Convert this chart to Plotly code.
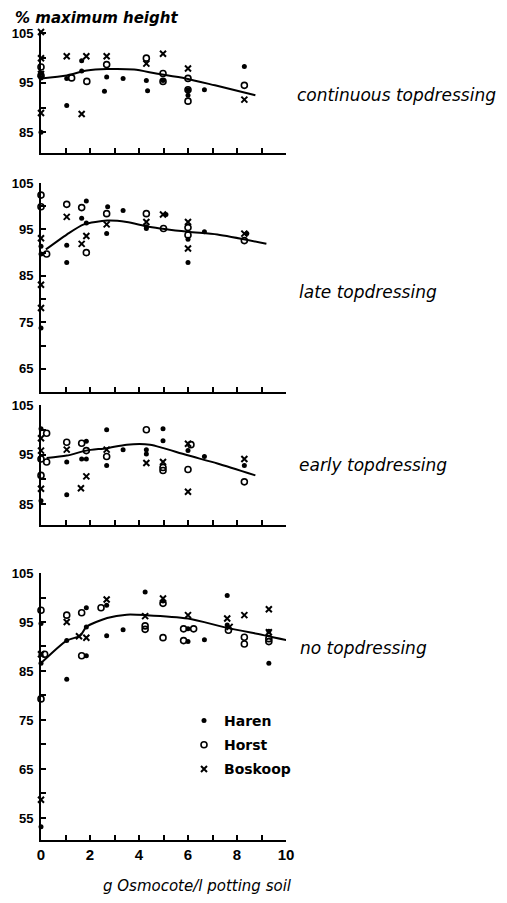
import plotly.graph_objects as go

# ---------------- data ----------------
panel_labels = ["continuous topdressing", "late topdressing", "early topdressing", "no topdressing"]
series_names = ["Haren", "Horst", "Boskoop"]

# continuous topdressing
cont_haren_x = [0, 0, 0, 1.05, 1.05, 1.66, 1.66, 2.68, 2.59, 3.35, 4.3, 4.35, 4.98, 6.0, 6.0, 6.67, 8.3]
cont_haren_y = [97.0, 96.0, 85.0, 95.9, 90.4, 99.5, 97.4, 96.2, 93.3, 95.9, 95.5, 93.4, 95.5, 93.6, 92.5, 93.6, 98.3]
cont_horst_x = [0, 0, 1.25, 1.87, 2.68, 4.3, 4.98, 4.98, 6.0, 6.0, 6.0, 8.3]
cont_horst_y = [98.2, 96.5, 96.0, 95.3, 98.7, 100.0, 96.9, 95.3, 95.9, 93.6, 91.3, 94.5]
cont_bosk_x = [0, 0, 0, 0, 1.05, 1.66, 1.85, 2.68, 4.3, 4.98, 6.0, 8.3]
cont_bosk_y = [105.3, 100.0, 96.8, 88.9, 100.4, 88.7, 100.4, 100.4, 98.9, 100.9, 97.9, 91.6]
cont_fit_x = [0, 1.05, 1.87, 2.7, 3.8, 4.7, 5.9, 7.1, 8.75]
cont_fit_y = [95.9, 96.5, 97.5, 97.8, 97.7, 96.9, 95.9, 94.5, 92.5]

# late topdressing
late_haren_x = [0, 0, 0, 1.05, 1.05, 1.85, 1.66, 1.85, 2.68, 2.72, 3.35, 4.3, 4.3, 5.1, 6.0, 6.0, 6.67, 8.4]
late_haren_y = [91.4, 89.7, 73.8, 91.6, 87.9, 101.1, 97.4, 96.4, 94.1, 99.9, 99.1, 95.6, 95.2, 98.2, 92.9, 87.9, 94.5, 94.1]
late_horst_x = [0, 0, 0.23, 1.05, 1.66, 1.85, 2.68, 4.3, 5.0, 6.0, 6.0, 8.3]
late_horst_y = [102.4, 99.9, 89.7, 100.4, 99.7, 90.0, 98.4, 98.4, 95.2, 95.4, 93.8, 92.6]
late_bosk_x = [0, 0, 0, 1.05, 1.85, 1.66, 2.68, 4.3, 4.98, 6.0, 6.0, 8.3]
late_bosk_y = [93.1, 83.1, 78.1, 97.7, 93.6, 91.9, 96.1, 96.6, 98.2, 96.6, 90.9, 94.1]
late_fit_x = [0.2, 1.05, 1.75, 2.7, 3.5, 4.4, 6.0, 7.2, 9.2]
late_fit_y = [90.7, 93.9, 96.1, 96.9, 96.6, 95.6, 94.5, 93.9, 91.9]

# early topdressing
early_haren_x = [0, 0, 1.05, 1.05, 1.85, 1.66, 1.85, 2.68, 2.68, 3.35, 4.3, 4.3, 4.98, 4.98, 6.0, 6.67, 8.3]
early_haren_y = [100.2, 85.7, 93.5, 86.9, 97.7, 94.1, 94.1, 100.0, 92.8, 96.0, 96.0, 95.1, 100.2, 97.8, 95.8, 94.6, 92.8]
early_horst_x = [0.23, 0, 0.23, 0, 1.05, 1.66, 1.85, 2.68, 4.3, 4.98, 4.98, 6.12, 6.0, 8.3]
early_horst_y = [99.3, 94.1, 93.5, 90.8, 97.5, 97.3, 95.8, 94.6, 100.0, 92.4, 91.8, 97.0, 92.0, 89.5]
early_bosk_x = [0, 0, 0, 1.05, 1.85, 1.63, 2.68, 4.3, 4.98, 6.0, 6.0, 8.3]
early_bosk_y = [98.3, 95.8, 88.1, 96.0, 90.6, 88.2, 96.0, 93.3, 93.5, 97.2, 87.5, 94.1]
early_fit_x = [0.23, 1.05, 1.85, 2.68, 3.5, 4.45, 5.0, 5.95, 7.2, 8.75]
early_fit_y = [94.3, 94.8, 95.8, 96.3, 97.0, 97.0, 96.3, 94.9, 93.2, 90.8]

# no topdressing
none_haren_x = [0, 0, 0, 0, 1.05, 1.05, 1.85, 1.85, 1.85, 2.68, 2.68, 3.35, 4.25, 4.98, 6.0, 6.0, 6.67, 7.6, 7.6, 9.3, 9.3]
none_haren_y = [94.7, 88.4, 86.6, 53.2, 91.2, 83.3, 97.9, 94.0, 88.1, 98.4, 92.2, 93.4, 101.1, 99.3, 93.6, 91.0, 91.4, 100.4, 94.4, 93.1, 86.6]
none_horst_x = [0, 0.15, 0, 1.05, 1.66, 1.66, 2.45, 4.25, 4.25, 4.98, 4.98, 5.82, 6.23, 5.82, 7.65, 8.3, 8.3, 9.3, 9.3]
none_horst_y = [97.4, 88.4, 79.3, 96.4, 96.9, 88.1, 97.9, 94.2, 93.5, 98.8, 91.8, 93.6, 93.6, 91.2, 93.3, 91.9, 90.5, 91.6, 91.0]
none_bosk_x = [0, 0, 1.05, 1.55, 1.85, 2.68, 4.25, 4.98, 6.0, 7.6, 7.7, 8.3, 9.3, 9.3]
none_bosk_y = [88.4, 58.7, 95.0, 92.1, 91.8, 99.6, 96.2, 99.8, 96.4, 95.7, 94.0, 96.4, 97.6, 92.9]
none_fit_x = [0, 1.05, 1.6, 1.85, 2.7, 3.5, 4.3, 6.0, 7.6, 9.2, 10.1]
none_fit_y = [86.6, 91.2, 92.2, 94.0, 95.8, 96.5, 96.4, 95.7, 93.8, 92.2, 91.2]

x_ticks = [0, 2, 4, 6, 8, 10]
y_ranges = [[80.8, 105.5], [60, 105], [80.8, 105], [50.5, 105]]

# ---------------- layout helpers ----------------
W, H = 507, 903
OFF = 8  # the page body adds an 8px margin; positions below are screen pixels

def px(p):
    return (p - OFF) / W

def py(p):
    return 1 - (p - OFF) / H

x_dom = [px(41), px(286)]
panel_px = [(31, 153), (183, 392), (405, 525), (573, 840)]

panels = [
    (cont_haren_x, cont_haren_y, cont_horst_x, cont_horst_y, cont_bosk_x, cont_bosk_y, cont_fit_x, cont_fit_y),
    (late_haren_x, late_haren_y, late_horst_x, late_horst_y, late_bosk_x, late_bosk_y, late_fit_x, late_fit_y),
    (early_haren_x, early_haren_y, early_horst_x, early_horst_y, early_bosk_x, early_bosk_y, early_fit_x, early_fit_y),
    (none_haren_x, none_haren_y, none_horst_x, none_horst_y, none_bosk_x, none_bosk_y, none_fit_x, none_fit_y),
]

marker_styles = [
    dict(symbol="circle", size=5, color="black"),
    dict(symbol="circle-open", size=6, color="black", line=dict(width=1.6, color="black")),
    dict(symbol="x-thin", size=6, color="black", line=dict(width=2, color="black")),
]

fig = go.Figure()
tick_font = dict(family="Liberation Sans", size=13, color="black", weight="bold")

for i, p in enumerate(panels):
    ax = "" if i == 0 else str(i + 1)
    xref, yref = "x" + ax, "y" + ax
    hx, hy, ox, oy, bx, by, fx, fy = p
    fig.add_trace(go.Scatter(x=fx, y=fy, mode="lines", line=dict(color="black", width=2, shape="spline", smoothing=0.7),
                             xaxis=xref, yaxis=yref, showlegend=False, cliponaxis=False, hoverinfo="skip"))
    for k, (sx, sy) in enumerate([(hx, hy), (ox, oy), (bx, by)]):
        fig.add_trace(go.Scatter(x=sx, y=sy, mode="markers", name=series_names[k], marker=marker_styles[k],
                                 xaxis=xref, yaxis=yref, cliponaxis=False, legendgroup=series_names[k],
                                 showlegend=(i == 3)))
    top, bot = panel_px[i]
    last = (i == 3)
    fig.layout["xaxis" + ax] = dict(
        domain=x_dom, anchor=yref, range=[0, 10], showline=True, linewidth=2, linecolor="black",
        showgrid=False, zeroline=False, ticks="inside", ticklen=5, tickwidth=2, tickcolor="black",
        tickvals=x_ticks if last else list(range(1, 11)), showticklabels=last, automargin=False,
        tickfont=dict(family="Liberation Sans", size=15, color="black", weight="bold"),
        minor=dict(ticks="inside", tickvals=list(range(1, 11)), ticklen=5, tickwidth=2, tickcolor="black") if last else None,
    )
    fig.layout["yaxis" + ax] = dict(
        domain=[py(bot), py(top)], anchor=xref, range=y_ranges[i], showline=True, linewidth=2, linecolor="black",
        showgrid=False, zeroline=False, ticks="inside", ticklen=5, tickwidth=2, tickcolor="black",
        tick0=5, dtick=10, tickfont=tick_font, ticklabelstandoff=3, automargin=False,
        minor=dict(ticks="inside", tick0=0, dtick=10, ticklen=5, tickwidth=2, tickcolor="black"),
    )

label_y = [95, 292, 465, 648]
label_x = [295, 297, 297, 298]
annotations = []
for i, t in enumerate(panel_labels):
    annotations.append(dict(text=t, x=px(label_x[i]), y=py(label_y[i]), xref="paper", yref="paper",
                            xanchor="left", yanchor="middle", showarrow=False,
                            font=dict(family="DejaVu Sans", size=17, color="black", style="italic")))
annotations.append(dict(text="% maximum height", x=px(13), y=py(18), xref="paper", yref="paper",
                        xanchor="left", yanchor="middle", showarrow=False,
                        font=dict(family="DejaVu Sans", size=15, color="black", style="italic", weight="bold")))
annotations.append(dict(text="g Osmocote/l potting soil", x=px(101), y=py(886), xref="paper", yref="paper",
                        xanchor="left", yanchor="middle", showarrow=False,
                        font=dict(family="DejaVu Sans", size=15, color="black", style="italic")))

fig.update_layout(
    width=W, height=H, margin=dict(l=0, r=0, t=0, b=0, autoexpand=False),
    paper_bgcolor="white", plot_bgcolor="white",
    annotations=annotations,
    showlegend=True,
    legend=dict(x=px(184), y=py(705), xanchor="left", yanchor="top", bgcolor="rgba(0,0,0,0)",
                font=dict(family="DejaVu Sans", size=14, color="black", weight="bold"), itemwidth=30,
                tracegroupgap=3),
)

fig.write_html("out.html")
